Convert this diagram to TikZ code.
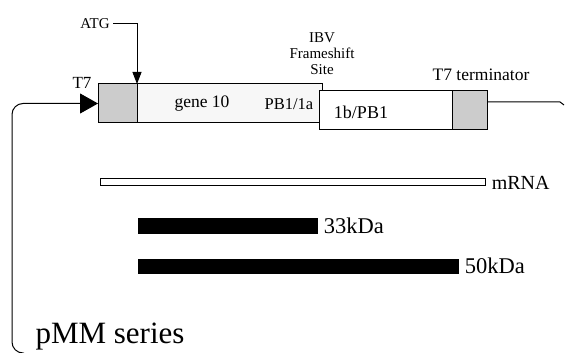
\documentclass[tikz,border=0pt]{standalone}
\usepackage{fontspec}
\setmainfont{Liberation Serif}
\usetikzlibrary{positioning, arrows.meta}
\newcommand{\fsz}[1]{\fontsize{#1}{#1}\selectfont}

\begin{document}
\begin{tikzpicture}[x=1pt, y=-1pt, line width=1pt,
    box/.style={draw, inner sep=0pt, outer sep=0pt, minimum height=39pt},
    bar/.style={draw, inner sep=0pt, outer sep=0pt}]
    \useasboundingbox (0,0) rectangle (566,353);

    % Construct
    \node[box, fill=gray!6, minimum width=185pt] (gene) at (229.5,103.5) {};
    \node[box, fill=gray!40, minimum width=39pt] (prom) at (117.5,103.5) {};
    \node[box, fill=white, minimum width=133pt] (pb1) at (385.5,110.5) {};
    \node[box, fill=gray!40, minimum width=35pt, right=0pt of pb1] (term) {};

    % Labels in the boxes
    \node[font=\fsz{17.5}] (genelab) at (202,104) {gene 10};
    \node[font=\fsz{16.5}] (pbonelab) at (289,104) {PB1/1a};
    \node[font=\fsz{18}] (pbtwolab) at (361,112) {1b/PB1};

    % Labels above
    \node[font=\fsz{15}] (atg) at (95,24) {ATG};
    \node[font=\fontsize{15}{16}\selectfont, align=center] (ibv) at (322,54) {IBV\\Frameshift\\Site};
    \node[font=\fsz{17}] (t7) at (82,83) {T7};
    \node[font=\fsz{17.5}] (t7term) at (481,75) {T7 terminator};

    % ATG arrow
    \draw[-{Triangle[length=12pt, width=9pt]}] (atg.east) -| (prom.north east);

    % Promoter bracket
    \coordinate (brk) at (24,353);
    \draw[rounded corners=11pt, -{Triangle[length=18pt, width=20pt]}]
        (brk) -| (12,103.5) -- (prom.west);

    % Tail after terminator
    \coordinate (tail) at (560,102);
    \draw ([yshift=-11pt]term.north east) -- (tail) -- ++(4,3);

    % Transcript and products
    \node[bar, fill=white, minimum width=385pt, minimum height=7pt] (mrna) at (292.5,182.5) {};
    \node[font=\fsz{20}, right=3pt of mrna] (mrnalab) {mRNA};

    \node[bar, fill=black, minimum width=179pt, minimum height=15pt] (kda33) at (227.5,225.5) {};
    \node[font=\fsz{22.5}, right=3pt of kda33] (kda33lab) {33kDa};

    \node[bar, fill=black, minimum width=320pt, minimum height=14pt] (kda50) at (298,266) {};
    \node[font=\fsz{22.5}, right=3pt of kda50] (kda50lab) {50kDa};

    % Series name
    \node[font=\fsz{31}, anchor=base west, inner sep=0pt] (pmm) at (35,343) {pMM series};
\end{tikzpicture}
\end{document}
